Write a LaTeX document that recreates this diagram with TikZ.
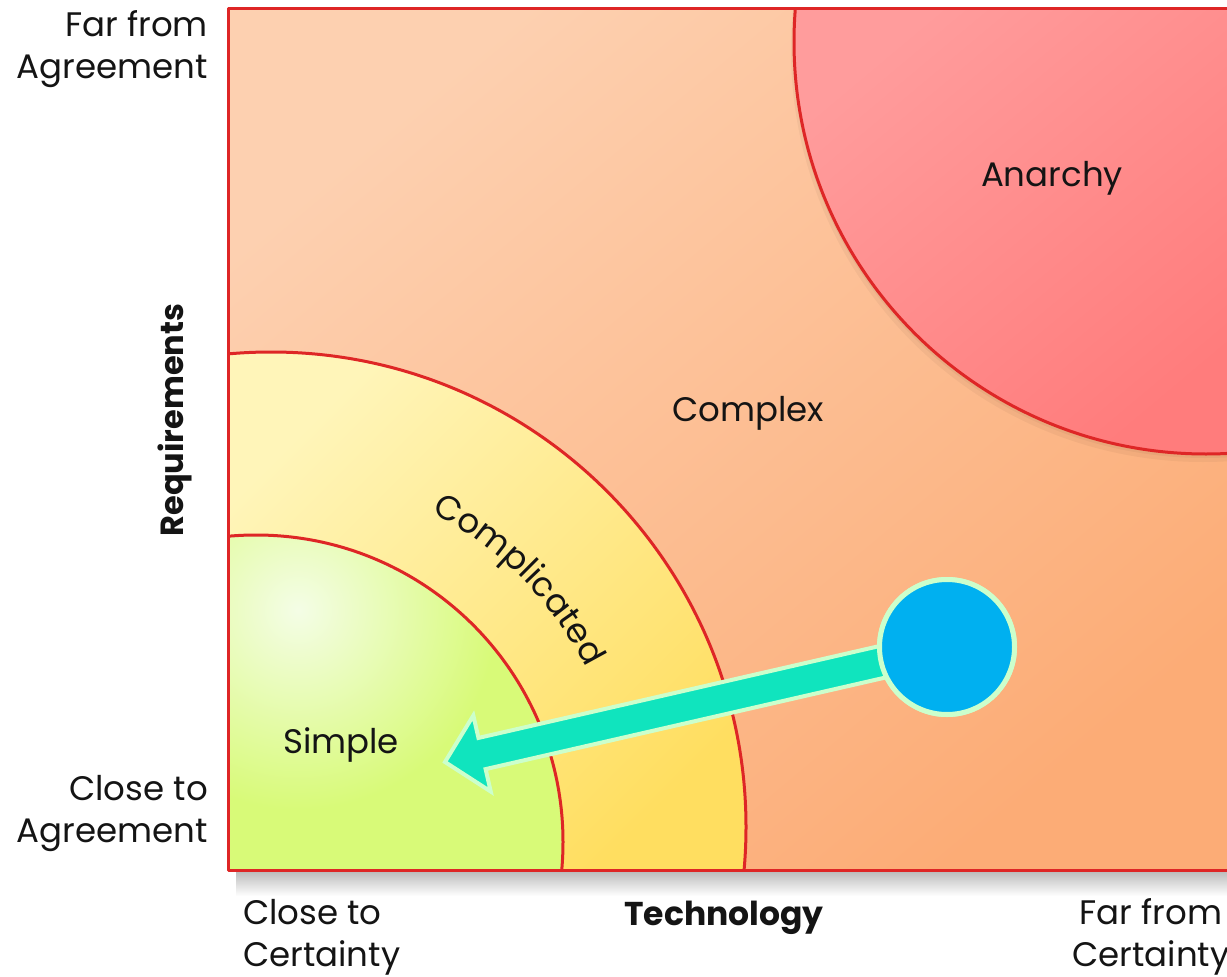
\documentclass[tikz,border=0pt]{standalone}
\usepackage{fontspec}
\setmainfont{Poppins}
\usetikzlibrary{calc,decorations.text}
\definecolor{redline}{RGB}{222,38,38}
\definecolor{cxlight}{RGB}{253,208,176}
\definecolor{cxmid}{RGB}{253,180,126}
\definecolor{cxdark}{RGB}{252,172,118}
\definecolor{anlight}{RGB}{255,156,156}
\definecolor{andark}{RGB}{255,124,124}
\definecolor{cplight}{RGB}{255,245,185}
\definecolor{cpdark}{RGB}{255,222,96}
\definecolor{smlight}{RGB}{244,253,230}
\definecolor{smdark}{RGB}{216,250,120}
\definecolor{arrfill}{RGB}{16,228,190}
\definecolor{arredge}{RGB}{204,255,204}
\definecolor{dotfill}{RGB}{0,176,240}
\definecolor{txt}{RGB}{20,20,20}
\begin{document}
\begin{tikzpicture}[x=1pt,y=-1pt,
  boundary/.style={draw=redline, line width=3pt},
  lbl/.style={font=\fontsize{34}{42}\selectfont, inner sep=0pt, text=txt},
  axislbl/.style={font=\fontsize{33}{42}\selectfont\bfseries, inner sep=0pt, text=txt},
  blockarrow/.style={fill=arrfill, draw=arredge, line width=4pt, line join=miter},
  dotsty/.style={circle, fill=dotfill, draw=arredge, line width=5pt, minimum size=135pt, inner sep=0pt}]
\useasboundingbox (0,0) rectangle (1227,977);
\clip (0,0) rectangle (1227,977);
\fill[white] (0,0) rectangle (1227,977);
% shadow below the chart
\shade[top color=black!28, bottom color=white] (236,870) rectangle (1240,896);
% regions
\begin{scope}
  \clip (228,8) rectangle (1240,870);
  \shade[top color=cxlight, middle color=cxmid, bottom color=cxdark, shading angle=40] (228,8) rectangle (1240,870);
  % anarchy shadow
  \fill[black, opacity=0.04] (1203,50) circle[radius=412];
  \fill[black, opacity=0.04] (1205,46) circle[radius=412];
  \begin{scope}
    \clip (1206,42) circle[radius=412];
    \shade[top color=anlight, middle color=andark, bottom color=andark, shading angle=40] (790,8) rectangle (1240,460);
  \end{scope}
  \draw[boundary] (1206,42) circle[radius=412];
  % complicated
  \begin{scope}
    \clip (271,827) circle[radius=475];
    \shade[top color=cplight, bottom color=cpdark, shading angle=45] (228,350) rectangle (750,870);
  \end{scope}
  \draw[boundary] (271,827) circle[radius=475];
  % simple
  \begin{scope}
    \clip (256,842) circle[radius=307];
    \fill[smdark] (228,530) rectangle (570,870);
    \shade[inner color=smlight, outer color=smdark] (298,610) circle[radius=200];
  \end{scope}
  \draw[boundary] (256,842) circle[radius=307];
\end{scope}
\draw[boundary, line join=round] (228,8) rectangle (1240,870);
% region labels
\node[lbl] (anarchy) at (1052,178) {Anarchy};
\node[lbl] (complex) at (748,413) {Complex};
\node[lbl] (simple) at (341,745) {Simple};
\path[decorate, decoration={text along path, text align=fit to path,
   text={|\fontsize{34}{34}\selectfont\color{txt}|Complicated}}]
   (271,827) ++(-63:353) arc[start angle=63, end angle=27, radius=353pt];
% movement arrow
\node[dotsty] (dot) at (947,647) {};
\coordinate (tip) at (445,762);
\coordinate (hb) at ($(tip)!38pt!(dot.center)$);
\draw[blockarrow] (tip) -- ($(hb)!39pt!90:(dot.center)$) -- ($(hb)!16pt!90:(dot.center)$)
  -- ($(dot.center)!16pt!-90:(hb)$) -- ($(dot.center)!16pt!90:(hb)$)
  -- ($(hb)!16pt!-90:(dot.center)$) -- ($(hb)!39pt!-90:(dot.center)$) -- cycle;
\node[dotsty] at (dot.center) {};
% axis labels
\node[lbl, align=right, anchor=east] (farag) at (208,49) {Far from\\Agreement};
\node[lbl, align=right, anchor=east] (closeag) at (208,814) {Close to\\Agreement};
\node[lbl, align=left, anchor=west] (closecert) at (243,937) {Close to\\Certainty};
\node[lbl, align=center] (farcert) at (1151,937) {Far from\\Certainty};
\node[axislbl] (tech) at (724,918) {Technology};
\node[axislbl, font=\fontsize{32}{42}\selectfont\bfseries, rotate=90] (req) at (175,420) {Requirements};
\end{tikzpicture}
\end{document}
